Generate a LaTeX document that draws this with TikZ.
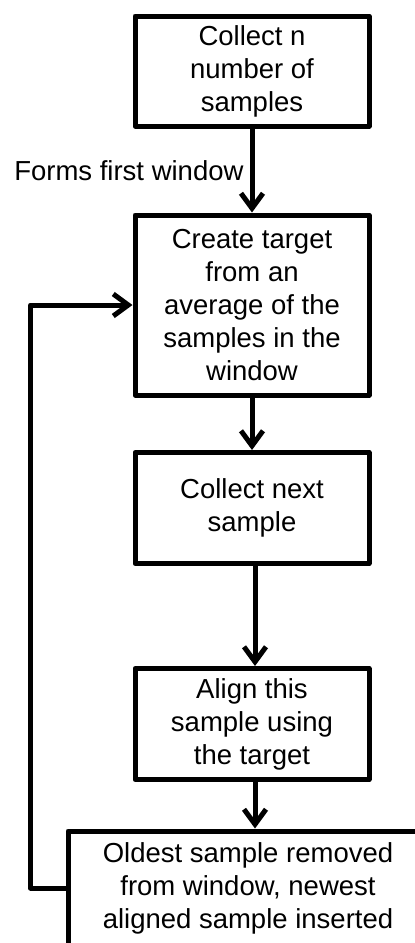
\documentclass[tikz,border=0pt]{standalone}
\usepackage{fontspec}
\setmainfont{Liberation Sans}
\usetikzlibrary{arrows.meta}

\begin{document}
\begin{tikzpicture}[
        x=1pt,
        y=-1pt,
        every node/.style={font=\fontsize{27.5}{33}\selectfont},
        stepbox/.style={
            rectangle,
            draw,
            line width=5pt,
            line join=round,
            align=center,
            minimum width=234pt,
            inner sep=0pt
        },
        flow/.style={
            line width=5pt,
            -{Straight Barb[length=15pt, width=22pt, line width=5pt]}
        }
    ]
    \useasboundingbox (0,0) rectangle (415,943);
    \clip (0,0) rectangle (415,943);

    % Boxes
    \node[stepbox, minimum height=110pt] (collect) at (252,71) {Collect n\\number of\\samples};
    \node[stepbox, minimum height=180pt] (target) at (252,305) {Create target\\from an\\average of the\\samples in the\\window};
    \node[stepbox, minimum height=111pt] (next) at (252,508) {Collect next\\sample};
    \node[stepbox, minimum height=111pt] (align) at (252,724) {Align this\\sample using\\the target};
    \node[stepbox, minimum width=360pt, minimum height=114pt] (update) at (248,888) {Oldest sample removed\\from window, newest\\aligned sample inserted};

    % Arrows
    \draw[flow] (collect) -- node[anchor=east, inner sep=6pt] (first) {Forms first window} (target);
    \draw[flow] (target) -- (next);
    \draw[flow] ([xshift=3pt]next.south) -- ([xshift=3pt]align.north);
    \draw[flow] ([xshift=3pt]align.south) -- ([xshift=3pt]align.south |- update.north);

    % Loop back
    \draw[flow, line join=round] (update.west) -- ++(-35,0) |- (target.west);
\end{tikzpicture}
\end{document}
